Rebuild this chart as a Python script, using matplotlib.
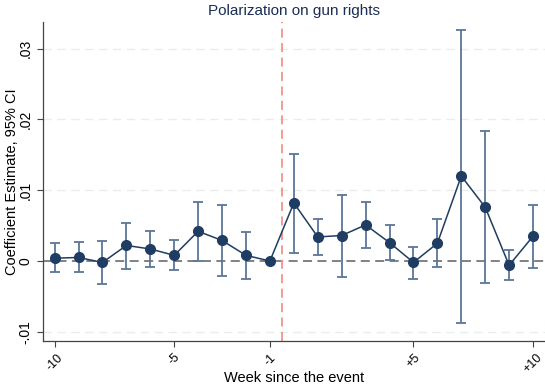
import matplotlib
matplotlib.use("Agg")
import matplotlib.pyplot as plt
import numpy as np

plt.rcParams['font.family'] = ['Liberation Sans', 'DejaVu Sans']

weeks = [-10, -9, -8, -7, -6, -5, -4, -3, -2, -1, 0, 1, 2, 3, 4, 5, 6, 7, 8, 9, 10]
coef = [0.0004, 0.0005, -0.0002, 0.0022, 0.0017, 0.0008, 0.0042, 0.0029, 0.0008, 0.0,
        0.0082, 0.0034, 0.0036, 0.0051, 0.0026, -0.0002, 0.0025, 0.0120, 0.0076, -0.0006, 0.0035]
upper = [0.0025, 0.0027, 0.0028, 0.0054, 0.0042, 0.0029, 0.0083, 0.0079, 0.0041, 0.0,
         0.0151, 0.0059, 0.0093, 0.0083, 0.0051, 0.0020, 0.0059, 0.0326, 0.0183, 0.0016, 0.0079]
lower = [-0.0016, -0.0016, -0.0032, -0.0011, -0.0009, -0.0013, 0.0000, -0.0021, -0.0025, 0.0,
         0.0011, 0.0008, -0.0022, 0.0018, 0.0001, -0.0025, -0.0008, -0.0087, -0.0031, -0.0027, -0.0010]
xticks = [-10, -5, -1, 5, 10]
xticklabels = ['-10', '-5', '-1', '+5', '+10']
yticks = [-0.01, 0, 0.01, 0.02, 0.03]
yticklabels = ['-.01', '0', '.01', '.02', '.03']
event_x = -0.5

navy = '#1f3d63'
bar_c = '#5b7698'

fig = plt.figure(figsize=(5.45, 3.88), dpi=100)
ax = fig.add_axes([0.0783, 0.1211, 0.9217, 0.8229])

x = np.array(weeks)
c = np.array(coef)
u = np.array(upper)
l = np.array(lower)

for yt in yticks:
    if yt != 0:
        ax.axhline(yt, color='#e8eeec', lw=1.0, ls=(0, (6, 4)), zorder=0)
ax.axhline(0, color='#777777', lw=1.3, ls=(0, (5, 3)), zorder=1)
ax.axvline(event_x, color='#f0948c', lw=1.3, ls=(0, (5, 3)), zorder=1)

mask = ~((u == 0) & (l == 0))
ax.errorbar(x[mask], c[mask], yerr=[c[mask] - l[mask], u[mask] - c[mask]], fmt='none',
            ecolor=bar_c, elinewidth=1.3, capsize=3.5, capthick=1.3, zorder=2)
ax.plot(x, c, color=navy, lw=1.1, marker='o', ms=7, mfc=navy, mec=navy, zorder=3)

ax.set_xlim(-10.5, 10.5)
ax.set_ylim(-0.0113, 0.0338)
ax.set_xticks(xticks)
ax.set_xticklabels(xticklabels, rotation=45, ha='center', va='top', fontsize=9)
ax.set_yticks(yticks)
ax.set_yticklabels(yticklabels, rotation=90, va='center', fontsize=10)
ax.tick_params(axis='both', direction='out', length=4, color='#444444', width=0.8)
for s in ['top', 'right']:
    ax.spines[s].set_visible(False)
for s in ['left', 'bottom']:
    ax.spines[s].set_color('#444444')
    ax.spines[s].set_linewidth(0.9)

ax.set_title('Polarization on gun rights', fontsize=11, color='#1a2d55', pad=5)
ax.set_xlabel('Week since the event', fontsize=10.5)
ax.set_ylabel('Coefficient Estimate, 95% CI', fontsize=10.5)
ax.xaxis.set_label_coords(0.5, -0.116)
ax.xaxis.label.set_va('center')
ax.yaxis.set_label_coords(-0.061, 0.5)
ax.yaxis.label.set_va('center')

fig.savefig('out.png', dpi=100)
